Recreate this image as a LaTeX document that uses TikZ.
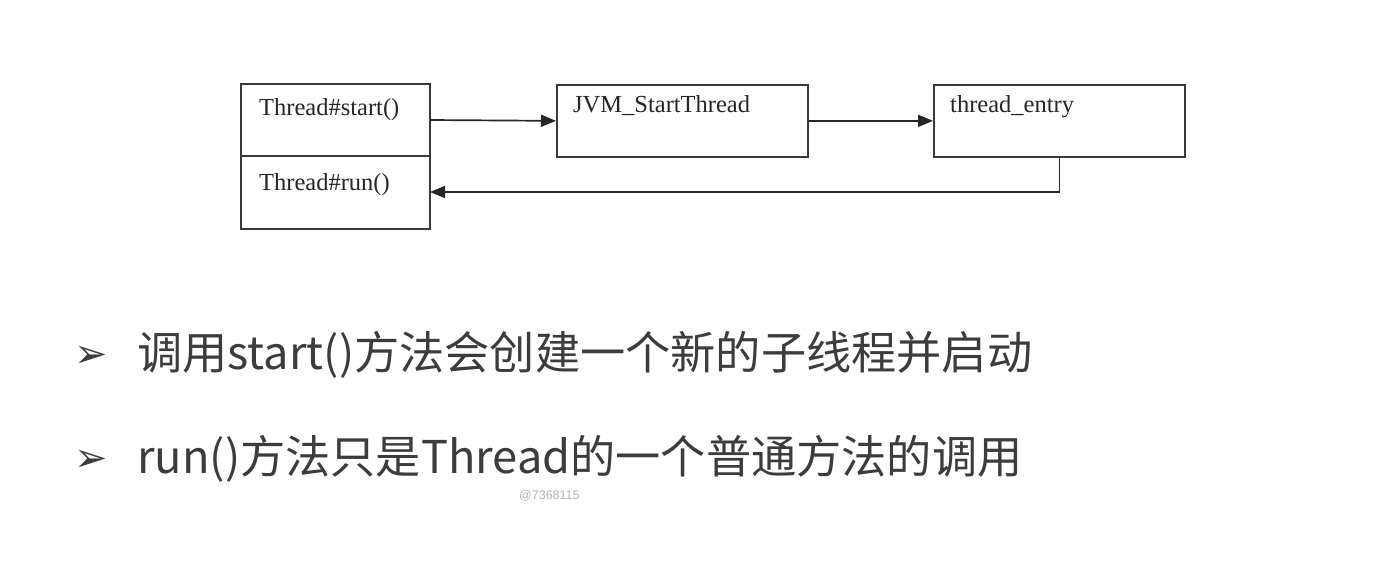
\documentclass[tikz,border=0pt]{standalone}
\usepackage{fontspec}
\setmainfont{Liberation Serif}
\newfontfamily\cjk{Noto Sans CJK SC}
\newfontfamily\dejavu{DejaVu Sans}
\newfontfamily\wmfont{Liberation Sans}
\usetikzlibrary{arrows.meta}
\definecolor{boxline}{HTML}{3A3A3A}
\definecolor{bultext}{HTML}{3C3C3C}
\definecolor{wm}{HTML}{B4B4B4}
\tikzset{
  boxshape/.style={draw=boxline, line width=1.7pt, fill=white},
  lbl/.style={anchor=base west, inner sep=0pt, font=\fontsize{24.5}{28}\selectfont, text=black!85},
  conn/.style={draw=black!85, line width=1.7pt, -{Triangle[length=15pt,width=12pt]}},
  bullet/.style={anchor=base west, inner sep=0pt, font=\dejavu\fontsize{40}{44}\selectfont, text=bultext},
  bultxt/.style={anchor=base west, inner sep=0pt, font=\cjk\fontsize{45.2}{50}\selectfont, text=bultext},
}
\begin{document}
\begin{tikzpicture}[x=1pt,y=-1pt]
\useasboundingbox[fill=white] (0,0) rectangle (1373,568);
% boxes
\path[boxshape] (241,84) rectangle (430,229);
\draw[draw=boxline, line width=1.7pt] (241,156) -- (430,156);
\coordinate (tstart) at (430,120);
\coordinate (trun) at (430,192);
\node[boxshape, minimum width=251pt, minimum height=72pt, anchor=north west, inner sep=0pt] (jvm) at (556,84) {};
\node[boxshape, minimum width=251pt, minimum height=72pt, anchor=north west, inner sep=0pt] (entry) at (933,84) {};
% labels
\node[lbl] (l1) at (259,115) {Thread\#start()};
\node[lbl] (l2) at (259,190) {Thread\#run()};
\node[lbl] (l3) at (573,112) {JVM\_StartThread};
\node[lbl] (l4) at (950,112) {thread\_entry};
% connectors
\draw[conn] (tstart) -- (jvm.west);
\draw[conn] (jvm.east) -- (entry.west);
\draw[conn] (entry.south) |- (trun);
% bullets
\node[bullet] (b1) at (74,367) {➢};
\node[bultxt] (t1) at (137,369) {调用start()方法会创建一个新的子线程并启动};
\node[bullet] (b2) at (74,471) {➢};
\node[bultxt] (t2) at (137,473) {run()方法只是Thread的一个普通方法的调用};
% watermark
\node[anchor=base west, inner sep=0pt, font=\wmfont\fontsize{12.5}{14}\selectfont, text=wm] (w) at (519,499) {@7368115};
\end{tikzpicture}
\end{document}
